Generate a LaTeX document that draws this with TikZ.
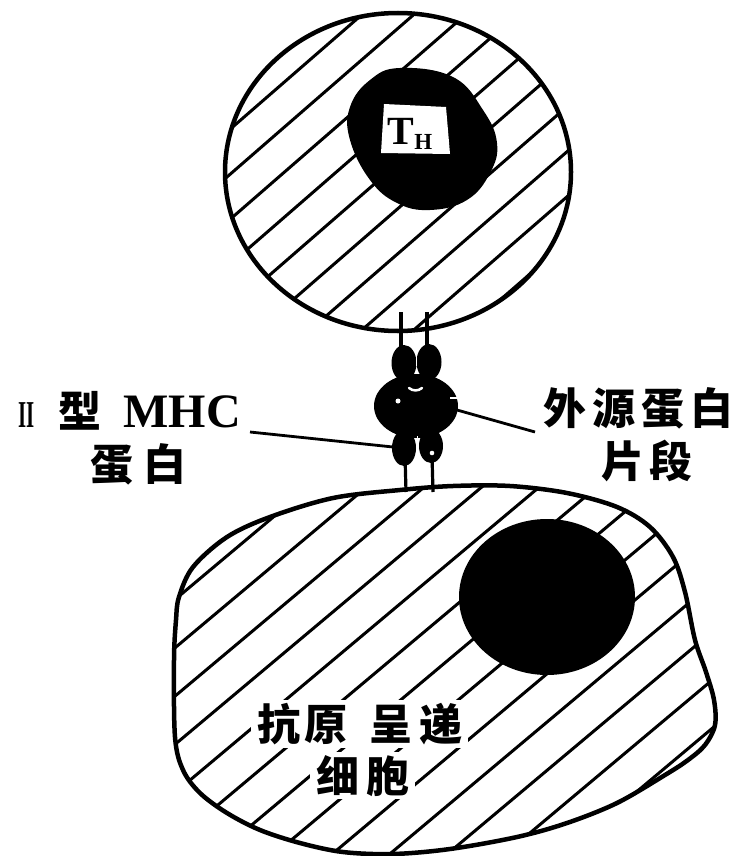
\documentclass[tikz,border=0pt]{standalone}
\usepackage{fontspec}
\usepackage{graphicx}
\setmainfont{Liberation Serif}
\newfontfamily\cjk{Noto Sans CJK SC}
\usetikzlibrary{calc}

% outline of the antigen-presenting cell
\def\apcpath{plot[smooth cycle, tension=0.55] coordinates {
  (400,490) (453,486) (510,486) (567,493) (617,507) (650,527) (673,557)
  (685,592) (695,640) (706,672) (714,700) (715,725) (705,745) (688,760)
  (665,775) (617,803) (567,823) (517,837) (450,849) (393,854) (343,852) (300,843)
  (260,830) (227,813) (200,793) (183,770) (175,737) (174,660) (176,620)
  (179,597) (193,567) (227,537) (270,517) (333,498)}}

\begin{document}
\begin{tikzpicture}[x=1pt,y=-1pt,
  outline/.style={line width=4.5pt, line join=round},
  hatch/.style={line width=3pt},
  lead/.style={line width=2.8pt},
  stalk/.style={line width=3.2pt},
  cjklabel/.style={font=\cjk\bfseries\fontsize{43}{48}\selectfont, inner sep=0pt, anchor=base west},
  halo/.style={fill=white, inner xsep=6pt, inner ysep=3pt},
]
\fill[white] (0,0) rectangle (750,856);
\useasboundingbox (0,0) rectangle (750,856);

% ---------- helper T cell ----------
\begin{scope}
  \clip (398,172) ellipse [x radius=173, y radius=159];
  \foreach \k in {-1,...,10} {
    \pgfmathsetmacro\px{243+\k*34*sin(41)}
    \pgfmathsetmacro\py{118+\k*34*cos(41)}
    \draw[hatch] ({\px-500*cos(41)},{\py+500*sin(41)}) -- ({\px+500*cos(41)},{\py-500*sin(41)});
  }
\end{scope}
\fill plot[smooth cycle, tension=0.7] coordinates {
  (400,68) (453,77) (483,110) (497,143) (490,173) (467,200) (430,210)
  (397,203) (370,180) (350,140) (350,107) (370,80)};
\fill[white] (384,104) -- (446,107) -- (450,154) -- (381,153) -- cycle;
\node[anchor=base west, inner sep=0pt, font=\bfseries\fontsize{40}{44}\selectfont] (th) at (387,144)
  {T\kern0.5pt\raisebox{-5pt}{\fontsize{23}{24}\selectfont H}};
\draw[outline] (398,172) ellipse [x radius=173, y radius=159];

% ---------- antigen-presenting cell ----------
\begin{scope}
  \clip \apcpath;
  \foreach \k in {-1,...,14} {
    \pgfmathsetmacro\px{178+\k*37*sin(40)}
    \pgfmathsetmacro\py{597+\k*37*cos(40)}
    \draw[hatch] ({\px-700*cos(40)},{\py+700*sin(40)}) -- ({\px+700*cos(40)},{\py-700*sin(40)});
  }
\end{scope}
\fill (547,597) ellipse [x radius=88, y radius=78];
\node[cjklabel, halo] (apc1) at (251,740) {抗\kern4pt 原\kern22pt 呈\kern7pt 递};
\node[cjklabel, halo] (apc2) at (310,792) {细\kern7pt 胞};
\draw[outline] \apcpath;

% ---------- MHC class II molecule with bound peptide ----------
\coordinate (tl) at (401,312);
\coordinate (tr) at (427,312);
\coordinate (bl) at (406,492);
\coordinate (br) at (433,492);
\draw[stalk] (tl) -- (401,350);
\draw[stalk] (tr) -- (427,350);
\draw[stalk] (bl) -- (405,455);
\draw[stalk] (br) -- (432,455);
\fill (404,363) ellipse [x radius=12.5, y radius=18];
\fill (429,362) ellipse [x radius=12.5, y radius=18];
\fill (404,448) ellipse [x radius=12, y radius=18];
\fill (431,446) ellipse [x radius=12, y radius=17];
\fill (416,406) ellipse [x radius=42, y radius=32];
\draw[white, line width=1.8pt] (416.5,346) -- (416.5,366);
\draw[white, line width=1.8pt] (417.5,436) -- (417.5,462);
\draw[white, line width=2.5pt, line cap=round] (409,388) to[bend right=40] (422,388);
\fill[white] (398,401) circle (2.5);
\fill[white] (432,453) circle (2.3);
\draw[white, line width=2pt] (450,398) -- (459,398);

% ---------- labels ----------
\node[anchor=base west, inner sep=0pt] (mhc) at (18,427)
  {{\bfseries\fontsize{38}{40}\selectfont\scalebox{0.55}[1]{II}}\kern24pt{\cjk\bfseries\fontsize{43}{48}\selectfont 型}\kern22pt{\bfseries\fontsize{48}{52}\selectfont MHC}};
\node[cjklabel] (mhc2) at (90,480) {蛋\kern10pt 白};
\node[cjklabel] (pep) at (543,424) {外\kern6pt 源\kern6pt 蛋\kern6pt 白};
\node[cjklabel] (pep2) at (601,477) {片\kern5pt 段};

\coordinate (mhcfrom) at (250,432);
\coordinate (mhcto) at (393,447);
\coordinate (pepfrom) at (535,432);
\coordinate (pepto) at (457,410);
\draw[lead] (mhcfrom) -- (mhcto);
\draw[lead] (pepfrom) -- (pepto);
\end{tikzpicture}
\end{document}
